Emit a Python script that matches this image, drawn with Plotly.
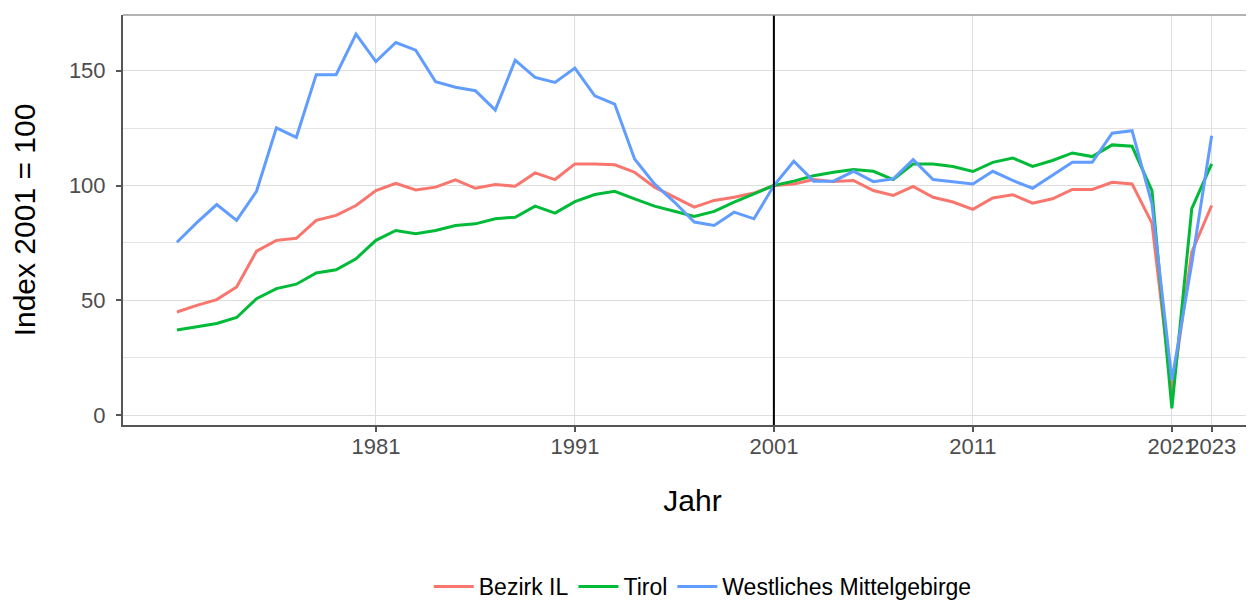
import plotly.graph_objects as go

years = list(range(1971, 2024))

bezirk_il = [44.9, 47.8, 50.3, 55.8, 71.4, 76.1, 77.0, 84.8, 87.0, 91.3,
             97.8, 101.0, 98.1, 99.3, 102.5, 98.8, 100.4, 99.7, 105.5, 102.6,
             109.4, 109.4, 109.0, 105.8, 99.3, 94.9, 90.6, 93.5, 94.9, 96.7,
             100.0, 100.7, 102.6, 101.7, 102.2, 97.8, 95.7, 99.6, 94.9, 92.8,
             89.6, 94.6, 96.0, 92.3, 94.2, 98.3, 98.3, 101.4, 100.7, 83.6,
             9.4, 71.0, 91.3]

tirol = [37.0, 38.4, 39.9, 42.5, 50.7, 55.1, 57.0, 61.9, 63.3, 68.1,
         76.1, 80.4, 79.0, 80.4, 82.6, 83.3, 85.5, 86.2, 91.0, 88.0,
         93.0, 96.1, 97.5, 94.2, 91.0, 88.8, 86.5, 88.7, 92.8, 96.4,
         100.0, 101.9, 104.3, 105.8, 107.0, 106.2, 102.6, 109.4, 109.4, 108.3,
         106.1, 110.1, 112.0, 108.3, 110.9, 114.2, 112.6, 117.7, 117.1, 97.8,
         2.9, 89.9, 109.4]

westliches_mittelgebirge = [75.3, 83.8, 91.7, 84.8, 97.5, 125.1, 121.0, 148.3, 148.3, 166.0,
                            154.0, 162.3, 159.0, 145.2, 142.8, 141.3, 132.9, 154.6, 147.1, 144.9,
                            151.2, 139.1, 135.5, 111.6, 100.7, 92.8, 84.1, 82.6, 88.4, 85.5,
                            100.0, 110.6, 101.9, 101.9, 106.2, 101.7, 102.9, 111.3, 102.6, 101.7,
                            100.7, 106.2, 102.2, 98.8, 104.3, 110.1, 110.1, 122.8, 123.9, 92.0,
                            15.2, 66.0, 121.7]

series_names = ["Bezirk IL", "Tirol", "Westliches Mittelgebirge"]
series_values = [bezirk_il, tirol, westliches_mittelgebirge]
series_colors = ["#F8766D", "#00BA38", "#619CFF"]

x_tickvals = [1981, 1991, 2001, 2011, 2021, 2023]
y_tickvals = [0, 50, 100, 150]

FONT = "Arial, 'Liberation Sans', sans-serif"

fig = go.Figure()
for name, vals, col in zip(series_names, series_values, series_colors):
    fig.add_trace(go.Scatter(x=years, y=vals, mode="lines", name=name,
                             line=dict(color=col, width=3)))

fig.add_shape(type="line", xref="x", yref="paper", x0=2001, x1=2001, y0=0, y1=1,
              line=dict(color="black", width=2))
# top panel border
fig.add_shape(type="line", xref="paper", yref="paper", x0=0, x1=1, y0=1, y1=1,
              line=dict(color="#9a9a9a", width=1.5))

fig.update_layout(
    width=1254, height=600,
    margin=dict(l=115, r=0, t=7, b=182),
    paper_bgcolor="white", plot_bgcolor="white",
    font=dict(family=FONT, color="black"),
    showlegend=True,
    legend=dict(orientation="h", x=0.509, xanchor="center", y=-0.394, yanchor="middle",
                font=dict(size=23, color="black"), itemwidth=40,
                traceorder="normal"),
    xaxis=dict(
        range=[1968.29, 2025.53],
        tickvals=x_tickvals, ticktext=[str(v) for v in x_tickvals],
        tickangle=0, automargin=False,
        showgrid=True, gridcolor="#DEDEDE", gridwidth=1,
        zeroline=False,
        showline=True, linecolor="#555555", linewidth=2,
        ticks="outside", ticklen=5, tickcolor="#555555", tickwidth=1.5,
        tickfont=dict(size=22, color="#4D4D4D"),
        ticklabelstandoff=-4,
        title=dict(text="Jahr", font=dict(size=30, color="black"), standoff=32),
    ),
    yaxis=dict(
        range=[-4.35, 174.3],
        tickvals=y_tickvals, ticktext=[str(v) for v in y_tickvals],
        automargin=False,
        showgrid=True, gridcolor="#DEDEDE", gridwidth=1,
        minor=dict(tickvals=[25, 75, 125], showgrid=True, gridcolor="#E4E4E4", gridwidth=1),
        zeroline=False,
        showline=True, linecolor="#555555", linewidth=2,
        ticks="outside", ticklen=5, tickcolor="#555555", tickwidth=1.5,
        tickfont=dict(size=22, color="#4D4D4D"),
        ticklabelstandoff=6,
        title=dict(text="Index 2001 = 100", font=dict(size=30, color="black"), standoff=29),
    ),
)

fig.write_html("out.html")
